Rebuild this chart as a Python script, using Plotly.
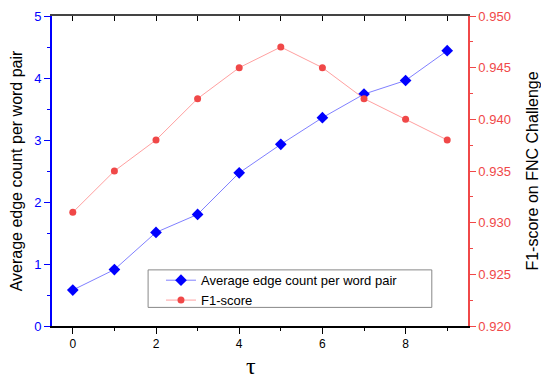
import plotly.graph_objects as go

tau = [0, 1, 2, 3, 4, 5, 6, 7, 8, 9]
avg_edges = [0.58, 0.91, 1.51, 1.80, 2.47, 2.93, 3.36, 3.74, 3.96, 4.44]
f1_score = [0.931, 0.935, 0.938, 0.942, 0.945, 0.947, 0.945, 0.942, 0.940, 0.938]

BLUE = "#0000ff"
RED = "#f04848"
FONT = "Liberation Sans, Arial, sans-serif"

fig = go.Figure()
fig.add_trace(go.Scatter(
    x=tau, y=avg_edges, mode="lines+markers", name="Average edge count per word pair",
    line=dict(color="#8080ff", width=1),
    marker=dict(symbol="diamond", size=9, color=BLUE),
    yaxis="y", xaxis="x",
))
fig.add_trace(go.Scatter(
    x=tau, y=f1_score, mode="lines+markers", name="F1-score",
    line=dict(color="#ffa0a0", width=1),
    marker=dict(symbol="circle", size=7, color=RED),
    yaxis="y2", xaxis="x",
))
# invisible trace for top mirrored axis
fig.add_trace(go.Scatter(x=[tau[0]], y=[avg_edges[0]], xaxis="x2", yaxis="y",
                         mode="markers", marker=dict(opacity=0), showlegend=False,
                         hoverinfo="skip"))

fig.update_layout(
    width=541, height=378,
    margin=dict(l=52, r=73, t=16, b=52, autoexpand=False),
    paper_bgcolor="white", plot_bgcolor="white",
    font=dict(family=FONT, size=13, color="black"),
    showlegend=True,
    legend=dict(x=0.262, y=0.196, xanchor="left", yanchor="top",
                bgcolor="rgba(0,0,0,0)", borderwidth=0,
                font=dict(size=13, family=FONT), tracegroupgap=0, itemwidth=30),
    xaxis=dict(range=[-0.5, 9.5], dtick=2, tick0=0, showgrid=False, zeroline=False,
               showline=True, linecolor="black", linewidth=1.5, automargin=False,
               ticks="outside", ticklen=6, tickcolor="black", tickwidth=1,
               minor=dict(dtick=1, tick0=0, ticks="outside", ticklen=3, tickcolor="black"),
               tickfont=dict(size=12, color="black")),
    xaxis2=dict(range=[-0.5, 9.5], overlaying="x", side="top", dtick=1, tick0=0,
                showgrid=False, zeroline=False, showticklabels=False, automargin=False,
                showline=True, linecolor="#444444", linewidth=1.5,
                ticks="inside", ticklen=5, tickcolor="black"),
    yaxis=dict(range=[0, 5], dtick=1, showgrid=False, zeroline=False,
               showline=True, linecolor=BLUE, linewidth=2, automargin=False,
               ticks="outside", ticklen=6, tickcolor=BLUE,
               minor=dict(dtick=0.5, ticks="outside", ticklen=3, tickcolor=BLUE),
               tickfont=dict(size=13, color=BLUE),
               title=dict(text="Average edge count per word pair",
                          font=dict(size=16, color="black"), standoff=8)),
    yaxis2=dict(range=[0.92, 0.95], dtick=0.005, tickformat=".3f", overlaying="y", side="right",
                showgrid=False, zeroline=False, automargin=False,
                showline=True, linecolor=RED, linewidth=1.5,
                ticks="outside", ticklen=6, tickcolor=RED,
                minor=dict(dtick=0.0025, ticks="outside", ticklen=3, tickcolor=RED),
                tickfont=dict(size=13, color=RED),
                title=dict(text="F1-score on FNC Challenge",
                           font=dict(size=16, color="black"), standoff=24)),
    shapes=[dict(type="rect", xref="paper", yref="paper",
                 x0=0.231, x1=0.913, y0=0.06, y1=0.181,
                 line=dict(color="#888888", width=1), fillcolor="rgba(0,0,0,0)")],
    annotations=[dict(text="τ", xref="paper", yref="paper", x=0.478, y=-0.128,
                      xanchor="center", yanchor="middle", showarrow=False,
                      font=dict(size=24, family="Liberation Serif, DejaVu Serif, serif",
                                color="black"))],
)

fig.write_html("out.html")
